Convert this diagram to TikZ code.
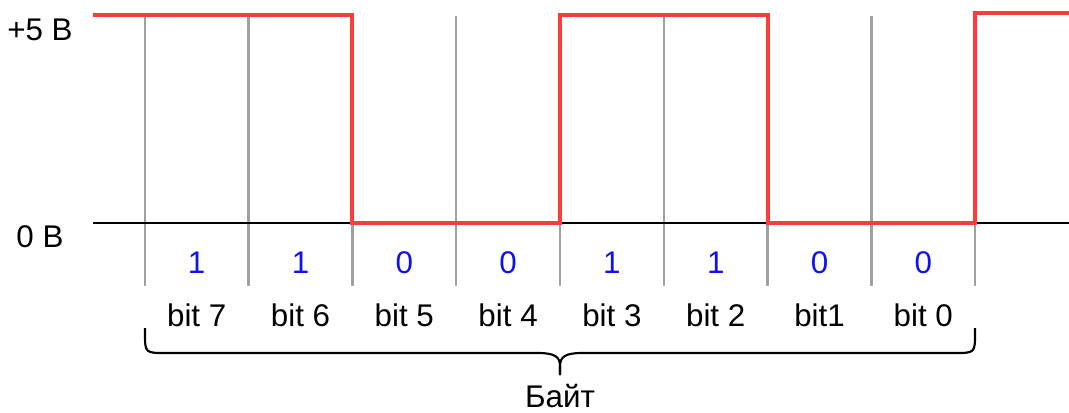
\documentclass[tikz,border=0pt]{standalone}
\usepackage{fontspec}
\setmainfont{Liberation Sans}
\usetikzlibrary{calc}
\definecolor{sigred}{HTML}{FF3B3B}
\definecolor{gridgray}{HTML}{A0A0A0}
\definecolor{bitblue}{HTML}{1010F0}
\begin{document}
\begin{tikzpicture}[x=0.75pt,y=-0.75pt,
  lbl/.style={font=\fontsize{23.5pt}{26pt}\selectfont, inner sep=0pt, anchor=center},
  bitval/.style={lbl, text=bitblue},
  gridline/.style={gridgray, line width=1.8pt},
  signal/.style={sigred, line width=3pt, line join=miter},
  zeroline/.style={black, line width=1.5pt},
  brace/.style={black, line width=1.6pt, line join=round}]
\useasboundingbox (0,0) rectangle (1069,412);

% cell borders
\foreach \i in {0,...,8} {
  \coordinate (g\i) at ({144.8+103.8*\i},16);
  \coordinate (h\i) at ({144.8+103.8*\i},286);
  \draw[gridline] (g\i) -- (h\i);
}

% 0 V level
\coordinate (z0) at (93,223);
\coordinate (z1) at (1069,223);
\draw[zeroline] (z0) -- (z1);

% level labels
\node[lbl] (hi) at (40,30) {+5 В};
\node[lbl] (lo) at (40,237) {0 В};

% signal
\coordinate (s0) at (93,15);
\draw[signal] (s0) -- (g2 |- s0) -- (g2 |- z0) -- (g4 |- z0) -- (g4 |- s0)
  -- (g6 |- s0) -- (g6 |- z0) -- (g8 |- z0) -- ($(g8)+(0,-3)$) -- (1069,13);

% bit values and names
\foreach \v/\n [count=\k from 0] in {1/bit 7,1/bit 6,0/bit 5,0/bit 4,1/bit 3,1/bit 2,0/bit1,0/bit 0} {
  \node[bitval] (v\k) at ({144.8+103.8*\k+51.9},263) {\v};
  \node[lbl] (n\k) at ({144.8+103.8*\k+51.9},315) {\n};
}

% byte brace
\coordinate (bl) at (145,328);
\coordinate (br) at (975,328);
\coordinate (bt) at (560,375);
\draw[brace] (bl) -- (145,333) .. controls (145,353) .. (166,353) -- (538,353)
  .. controls (555,353) and (560,357) .. (560,366) -- (bt);
\draw[brace] (br) -- (975,333) .. controls (975,353) .. (954,353) -- (582,353)
  .. controls (565,353) and (560,357) .. (560,366) -- (bt);
\node[lbl] (byte) at (560,396) {Байт};
\end{tikzpicture}
\end{document}
